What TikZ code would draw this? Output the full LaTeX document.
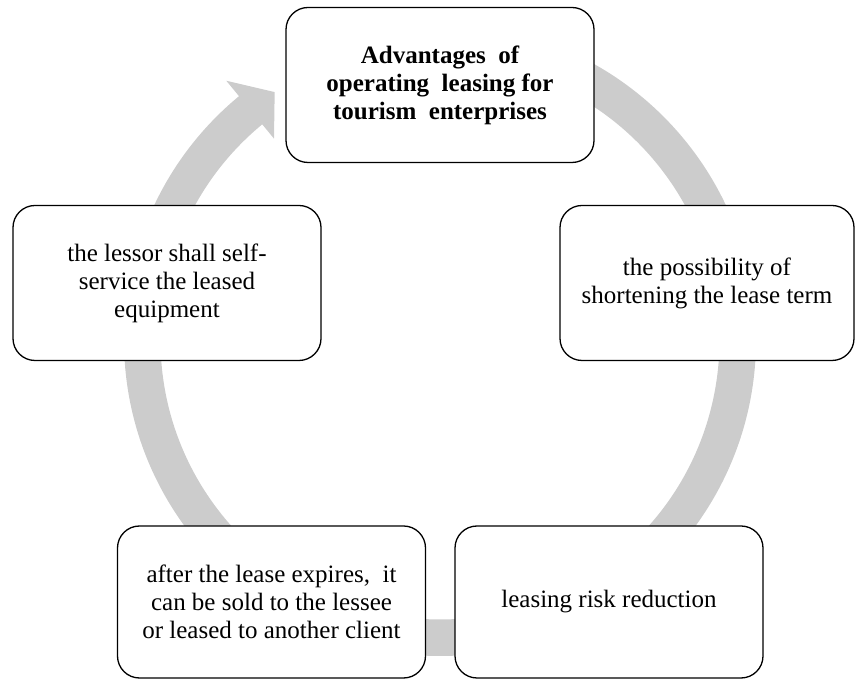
\documentclass[tikz,border=0pt]{standalone}
\usepackage{fontspec}
\setmainfont{Liberation Serif}
\definecolor{ringgray}{RGB}{204,204,204}
\begin{document}
\begin{tikzpicture}[x=1pt, y=1pt, box/.style={rectangle, rounded corners=22pt, draw=black, line width=1.3pt, fill=white, minimum width=308pt, minimum height=155pt, inner sep=0pt, align=center, font=\fontsize{25}{28}\selectfont}]
        \useasboundingbox (0,0) rectangle (856,679);
        \coordinate (c) at (440,339);

        \fill[ringgray, shift={(c)}] (90:316pt) arc[start angle=90, end angle=-230.5, radius=316pt]
        -- (-230.5:336pt) -- (-236.3:298pt) -- (-230.5:261pt) -- (-230.5:279.5pt)
        arc[start angle=-230.5, end angle=90, radius=279.5pt] -- cycle;

        \node[box, font={\fontsize{25}{28}\selectfont\bfseries}] (adv) at (440,594) {Advantages\ \ of\\operating\ \ leasing for\\tourism\ \ enterprises};
        \node[box, minimum width=294pt] (term) at (707,396) {the possibility of\\shortening the lease term};
        \node[box, minimum height=152pt] (risk) at (609,77) {leasing risk reduction};
        \node[box, minimum height=152pt] (sale) at (271.5,77) {after the lease expires,\ \ it\\can be sold to the lessee\\or leased to another client};
        \node[box] (service) at (167,396) {the lessor shall self-\\service the leased\\equipment};
    \end{tikzpicture}
\end{document}
